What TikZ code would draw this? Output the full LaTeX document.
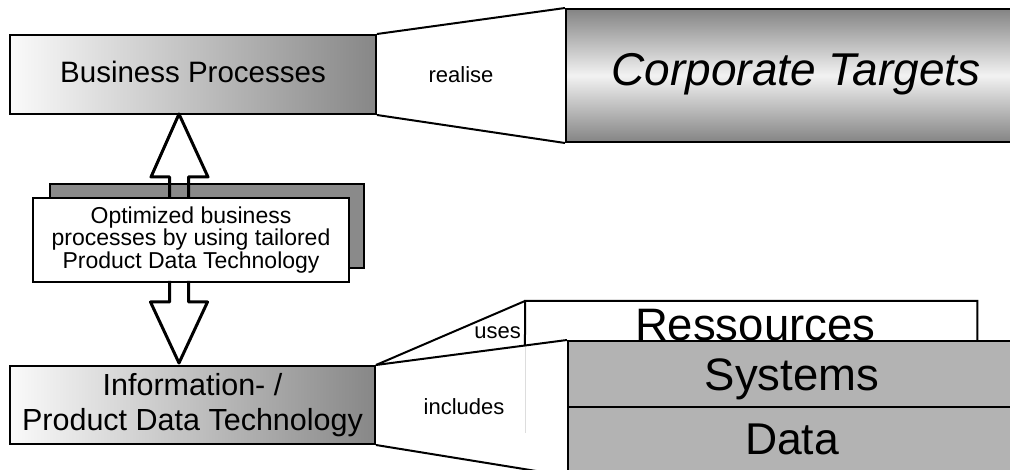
\documentclass[tikz,border=0pt]{standalone}
\usepackage{fontspec}
\setmainfont{Liberation Sans}
\usetikzlibrary{calc}
\definecolor{gradlight}{HTML}{FAFAFA}
\definecolor{graddark}{HTML}{878787}
\definecolor{ctdark}{HTML}{848484}
\definecolor{ctlight}{HTML}{F2F2F2}
\definecolor{shadowgray}{HTML}{8A8A8A}
\definecolor{layergray}{HTML}{B3B3B3}
\definecolor{faintgray}{HTML}{DDDDDD}
\tikzset{
  gradbox/.style={draw, line width=2pt, left color=gradlight, right color=graddark, inner sep=0pt, anchor=north west},
  ctbox/.style={draw, line width=2pt, top color=ctdark, bottom color=ctdark, middle color=ctlight, inner sep=0pt, anchor=north west},
  shadowbox/.style={draw, line width=2pt, fill=shadowgray, inner sep=0pt, anchor=north west},
  whitebox/.style={draw, line width=2pt, fill=white, inner sep=0pt, anchor=north west},
  layerbox/.style={draw, line width=2pt, fill=layergray, inner sep=0pt, anchor=north west},
  plainbox/.style={inner sep=0pt, anchor=north west},
  link/.style={line width=2pt},
  blockarrow/.style={line width=3pt, line join=round},
  faint/.style={line width=0.8pt, faintgray},
  lbl/.style={font=\fontsize{22}{26}\selectfont, inner sep=0pt},
  bigtext/.style={font=\fontsize{45.5}{50}\selectfont, inner sep=0pt},
}
\begin{document}
\begin{tikzpicture}[x=1pt,y=-1pt]
\useasboundingbox (0,0) rectangle (1010,470);
\clip (0,0) rectangle (1010,470);

% top row
\node[gradbox, minimum width=366pt, minimum height=79pt, text height=21pt, text depth=4pt,
      font=\fontsize{29.5}{34}\selectfont] (bp) at (9,34) {Business Processes};
\node[ctbox, minimum width=460pt, minimum height=133pt, text height=34pt, text depth=13pt,
      font=\fontsize{46}{52}\selectfont\itshape] (ct) at (565,8) {Corporate Targets};
\draw[link] (bp.north east) -- (ct.north west);
\draw[link] (bp.south east) -- (ct.south west);
\node[lbl, anchor=base] (realise) at (461,83) {realise};

% middle: shadowed note with block arrows
\node[shadowbox, minimum width=314pt, minimum height=84pt] (shadow) at (49,183) {};
\coordinate (upl) at (169.5,197);
\coordinate (upr) at (188.5,197);
\draw[blockarrow] (upl) -- (169.5,177) -- (151,177) -- (179,114) -- (208,177) -- (188.5,177) -- (upr);
\node[whitebox, minimum width=316pt, minimum height=84pt, align=center,
      font=\fontsize{23}{22.5}\selectfont] (opt) at (32,197)
      {Optimized business\\processes by using tailored\\Product Data Technology};
\coordinate (dnl) at (169.5,281);
\coordinate (dnr) at (188.5,281);
\draw[blockarrow] (dnl) -- (169.5,302) -- (150.5,302) -- (179,363) -- (207.5,302) -- (188.5,302) -- (dnr);

% bottom row
\node[gradbox, minimum width=365pt, minimum height=78pt, align=center,
      font=\fontsize{30.5}{35}\selectfont] (info) at (9,365) {Information- /\\Product Data Technology};
\node[plainbox, minimum width=452pt, minimum height=39pt] (res) at (525,301) {};
\node[bigtext, anchor=base] (restext) at ($(res.south)+(4,0)$) {Ressources};
\node[layerbox, minimum width=448pt, minimum height=66pt, text height=34pt, text depth=0pt,
      font=\fontsize{45.5}{50}\selectfont] (sys) at (567,340) {Systems};
\node[layerbox, minimum width=448pt, minimum height=68pt, text height=34pt, text depth=8pt,
      font=\fontsize{44.5}{50}\selectfont] (data) at (567,406) {Data};

\coordinate (resfoot) at (intersection of res.north west--res.south west and info.north east--sys.north west);
\draw[faint] (resfoot) -- ++(0,88);
\draw[link] (info.north east) -- (res.north west);
\draw[link] (info.north east) -- (sys.north west);
\draw[link] (resfoot) -- (res.north west) -- (res.north east) -- (res.south east);
\draw[link] (info.south east) -- (data.south west);
\node[lbl, anchor=base east] (uses) at (521,339) {uses};
\node[lbl, anchor=base] (incl) at (464,414.5) {includes};
\end{tikzpicture}
\end{document}
